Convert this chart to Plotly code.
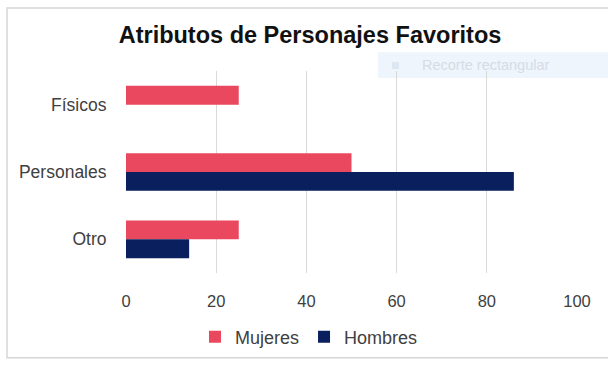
import plotly.graph_objects as go

categories = ["Físicos", "Personales", "Otro"]
mujeres = [25, 50, 25]
hombres = [0, 86, 14]
x_ticks = [0, 20, 40, 60, 80, 100]

W, H = 608, 367
L, R, T, B = 126, 31, 71, 91
pw, ph = W - L - R, H - T - B

def px(x):
    return (x - L) / pw

def py(y):
    return (H - B - y) / ph

fig = go.Figure()
fig.add_trace(go.Bar(y=categories, x=mujeres, name="Mujeres", orientation="h",
                     marker=dict(color="#E9485F", line_width=0)))
fig.add_trace(go.Bar(y=categories, x=hombres, name="Hombres", orientation="h",
                     marker=dict(color="#0A1F5E", line_width=0)))

fam = "Liberation Sans, Arial, sans-serif"

fig.update_layout(
    width=W, height=H,
    margin=dict(l=L, r=R, t=T, b=B),
    paper_bgcolor="white", plot_bgcolor="white",
    barmode="group", bargap=0.44, bargroupgap=0,
    title=dict(text="<b>Atributos de Personajes Favoritos</b>",
               x=310 / W, xanchor="center", y=1 - 35 / H, yanchor="middle",
               font=dict(family=fam, size=23.5, color="#111111")),
    xaxis=dict(range=[0, 100], tickvals=x_ticks, showgrid=True, gridcolor="#d9d9d9",
               gridwidth=1, zeroline=False, showline=False, ticks="outside", ticklen=13,
               tickcolor="rgba(0,0,0,0)", tickfont=dict(family=fam, size=16.5, color="#404040")),
    yaxis=dict(autorange="reversed", showgrid=False, zeroline=False, showline=False,
               ticks="outside", ticklen=15, tickcolor="rgba(0,0,0,0)",
               tickfont=dict(family=fam, size=17.5, color="#404040")),
    legend=dict(orientation="h", x=px(309), xanchor="center", y=py(341), yanchor="middle",
                font=dict(family=fam, size=18, color="#404040"),
                itemwidth=30, traceorder="normal", bgcolor="rgba(0,0,0,0)"),
    showlegend=True,
)

# outer chart frame
fig.add_shape(type="rect", xref="paper", yref="paper",
              x0=px(7), x1=px(640), y0=py(362), y1=py(7),
              line=dict(color="#d6d6d6", width=1.5), fillcolor="rgba(0,0,0,0)", layer="below")

# faint overlay box ("Recorte rectangular")
fig.add_shape(type="rect", xref="paper", yref="paper",
              x0=px(378), x1=px(640), y0=py(78), y1=py(52),
              line=dict(width=0), fillcolor="#eef5fc", layer="below")
fig.add_shape(type="rect", xref="paper", yref="paper",
              x0=px(392), x1=px(399), y0=py(69), y1=py(62),
              line=dict(width=0), fillcolor="#dde7f2", layer="below")
fig.add_annotation(text="Recorte rectangular", xref="paper", yref="paper",
                   x=px(420), xanchor="left", y=py(65), yanchor="middle", showarrow=False,
                   font=dict(family=fam, size=14.5, color="#d6dce4"))

fig.write_html("out.html")
